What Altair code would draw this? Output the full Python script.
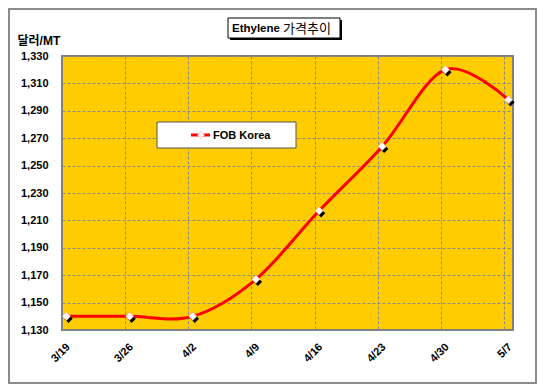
import altair as alt
import pandas as pd

# ---- data ----
dates = ["2013-03-19", "2013-03-26", "2013-04-02", "2013-04-09",
         "2013-04-16", "2013-04-23", "2013-04-30", "2013-05-07"]
prices = [1140, 1140, 1140, 1167, 1217, 1264, 1320, 1298]
y_ticks = list(range(1130, 1331, 20))
series_name = "FOB Korea"
title_en = "Ethylene"
title_ko = "가격추이"
y_title = "달러/MT"

FONT = "Liberation Sans, Arial, Noto Sans CJK KR, sans-serif"

# points sit in the middle of their day slot (Excel date axis)
df = pd.DataFrame({
    "t": [d + "T12:00:00Z" for d in dates],
    "price": prices,
})

def dt(s):
    y, m, d = map(int, s.split("-"))
    return alt.DateTime(year=y, month=m, date=d, utc=True)

x_enc = alt.X(
    "t:T",
    scale=alt.Scale(type="utc", domain=[dt("2013-03-19"), dt("2013-05-08")]),
    axis=alt.Axis(
        values=[dt(d) for d in dates],
        labelExpr="utcFormat(datum.value, '%-m/%-d')",
        labelAngle=315, labelAlign="right", labelBaseline="middle",
        labelOffset=6, labelPadding=15, labelFontWeight="bold",
        labelFontSize=11, labelColor="black", labelFont=FONT,
        ticks=False, domain=False, title=None,
        grid=True, gridDash=[3, 2], gridColor="#8a8a8a", gridWidth=1,
    ),
)
y_enc = alt.Y(
    "price:Q",
    scale=alt.Scale(domain=[1130, 1330], nice=False, zero=False),
    axis=alt.Axis(
        values=y_ticks, format=",d",
        labelFontWeight="bold", labelFontSize=11, labelColor="black",
        labelFont=FONT, labelPadding=14, ticks=False, domain=False,
        grid=True, gridDash=[3, 2], gridColor="#8a8a8a", gridWidth=1,
        title=y_title, titleAngle=0, titleX=-45, titleY=-16,
        titleAlign="left", titleBaseline="middle", titleFontSize=12,
        titleFontWeight="bold", titleFont=FONT, titleColor="black",
    ),
)

base = alt.Chart(df)
line = base.mark_line(color="#FF0000", strokeWidth=3, interpolate="cardinal").encode(x=x_enc, y=y_enc)
shadow = base.mark_point(shape="diamond", filled=True, color="black", size=70,
                         opacity=1, xOffset=2, yOffset=2.5).encode(x=x_enc, y=y_enc)
pts = base.mark_point(shape="diamond", filled=True, color="white", size=70,
                      opacity=1, stroke="#FF8080", strokeWidth=0.5).encode(x=x_enc, y=y_enc)

one = alt.Data(values=[{"a": 1}])

def box(x1, x2, y1, y2, fill, stroke=None, sw=1):
    kw = dict(fill=fill)
    if stroke:
        kw.update(stroke=stroke, strokeWidth=sw)
    return alt.Chart(one).mark_rect(**kw).encode(
        x=alt.value(x1), x2=alt.value(x2), y=alt.value(y1), y2=alt.value(y2))

def txt(x, y, s, size, weight, align):
    return alt.Chart(one).mark_text(
        text=s, fontSize=size, fontWeight=weight, align=align,
        baseline="middle", color="black", font=FONT).encode(
        x=alt.value(x), y=alt.value(y))

# legend
leg_box = box(95, 234, 66, 92, "white", "#555555", 1)
leg_line = alt.Chart(one).mark_rule(color="#FF0000", strokeWidth=3).encode(
    x=alt.value(129), x2=alt.value(148), y=alt.value(79))
leg_pt = alt.Chart(one).mark_point(shape="diamond", filled=True, color="white",
                                   size=55, opacity=1, stroke="#FF8080",
                                   strokeWidth=0.5).encode(x=alt.value(139), y=alt.value(79))
leg_txt = txt(151, 79.5, series_name, 11, "bold", "left")

# title box with shadow
t_shadow = box(168, 280, -36, -16, "black")
t_box = box(166, 278, -38, -18, "white", "black", 1)
t_en = txt(170, -27.5, title_en, 11.5, "bold", "left")
t_ko = txt(221, -27.5, title_ko, 13, "normal", "left")

# outer frame
frame = alt.Chart(one).mark_rect(fill="transparent", stroke="#8c8c8c", strokeWidth=2).encode(
    x=alt.value(-53), x2=alt.value(474), y=alt.value(-47), y2=alt.value(327))

chart = alt.layer(
    line, shadow, pts, leg_box, leg_line, leg_pt, leg_txt,
    t_shadow, t_box, t_en, t_ko, frame,
).properties(
    width=451, height=274,
    autosize=alt.AutoSizeParams(type="none"),
    padding={"left": 54, "top": 48, "right": 24, "bottom": 54},
    background="white",
).configure_view(
    fill="#FFCC00", stroke="#7f7f7f", strokeWidth=2,
)

chart.save("out.html", embed_options={"renderer": "svg", "actions": False})
